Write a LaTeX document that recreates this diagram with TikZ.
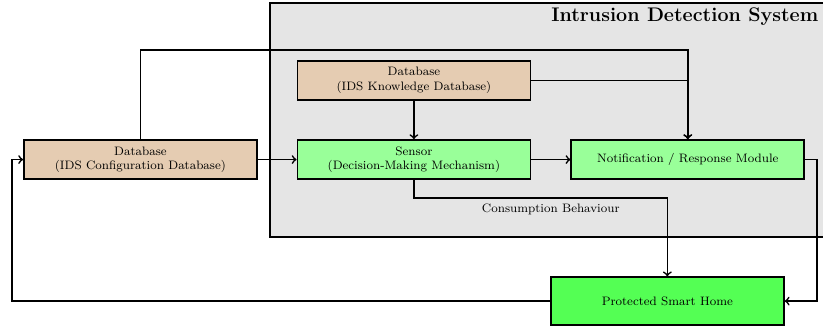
\documentclass[tikz,border=0pt]{standalone}
\usetikzlibrary{positioning}

\begin{document}
\begin{tikzpicture}[
    font=\footnotesize,
    block/.style={rectangle, draw, line width=1.1pt, minimum width=5.36cm, minimum height=0.9cm, align=center, inner sep=2pt},
    database/.style={block, fill=brown!40},
    module/.style={block, fill=green!40},
    home/.style={block, fill=green!67, minimum height=1.1cm},
    link/.style={draw, line width=1.1pt, ->}
]
\useasboundingbox (0,0) rectangle (18.93,7.5);

% IDS frame
\draw[line width=1.1pt, fill=gray!20] (6.21,2.05) rectangle (19.3,7.43);
\node[anchor=north east, font=\fontsize{12.9}{15}\selectfont\bfseries, inner sep=2pt] (title) at (18.9,7.4) {Intrusion Detection System};

% Define blocks
\node[database] (config) at (3.23,3.83) {Database\\(IDS Configuration Database)};
\node[database] (knowledge) at (9.52,5.65) {Database\\(IDS Knowledge Database)};
\node[module] (sensor) at (9.52,3.83) {Sensor\\(Decision-Making Mechanism)};
\node[module] (notify) at (15.82,3.83) {Notification / Response Module};
\node[home] (smarthome) at (15.35,0.575) {Protected Smart Home};

% Draw links
\draw[link] (config) -- (sensor);
\draw[link] (sensor) -- (notify);
\draw[link] (knowledge) -- (sensor);
\draw[link] (config.north) |- (15.82,6.35) -- (notify.north);
\draw[link] (knowledge.east) -| (notify.north);
\draw[link] (sensor.south) |- node[below, pos=0.77] {Consumption Behaviour} (15.35,2.94) -- (smarthome.north);
\draw[link] (notify.east) -| (18.79,0.575) -- (smarthome.east);
\draw[link] (smarthome.west) -| (0.28,3.83) -- (config.west);

\end{tikzpicture}
\end{document}
